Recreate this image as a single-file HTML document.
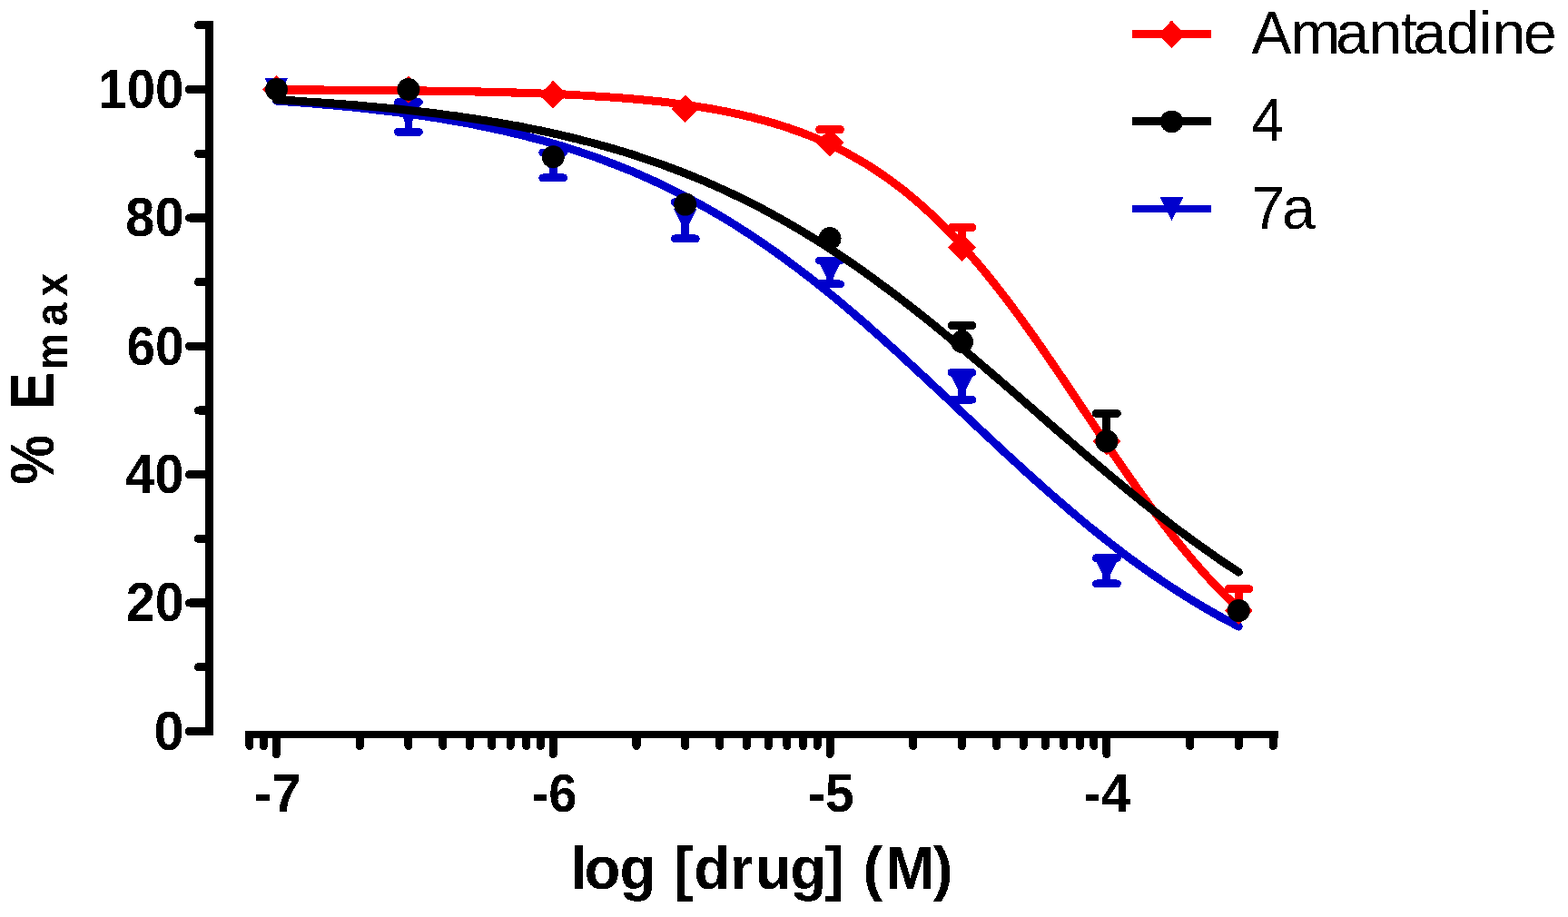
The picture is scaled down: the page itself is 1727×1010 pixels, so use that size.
<!DOCTYPE html><html><head><meta charset="utf-8"><title>Dose response: Amantadine, 4, 7a</title><style>html,body{margin:0;padding:0;background:#fff;}svg{display:block;}text{font-family:"Liberation Sans",Arial,Helvetica,sans-serif;}</style></head><body><svg width="1727" height="1010" viewBox="0 0 1727 1010"><rect width="1727" height="1010" fill="#fff"/><defs><filter id="alias" x="0" y="0" width="1727" height="1010" filterUnits="userSpaceOnUse"><feComponentTransfer><feFuncA type="discrete" tableValues="0 1"/></feComponentTransfer></filter></defs><g filter="url(#alias)"><g stroke="#000" fill="none" stroke-linecap="round" stroke-linejoin="miter"><path d="M218.40 27.80 H230.40 V805.50 H208.40" stroke-width="9"/><path d="M218.40 734.80 H230.40" stroke-width="9"/><path d="M208.40 664.10 H230.40" stroke-width="9"/><path d="M218.40 593.40 H230.40" stroke-width="9"/><path d="M208.40 522.70 H230.40" stroke-width="9"/><path d="M218.40 452.00 H230.40" stroke-width="9"/><path d="M208.40 381.30 H230.40" stroke-width="9"/><path d="M218.40 310.60 H230.40" stroke-width="9"/><path d="M208.40 239.90 H230.40" stroke-width="9"/><path d="M218.40 169.20 H230.40" stroke-width="9"/><path d="M208.40 98.50 H230.40" stroke-width="9"/><path d="M270.41 809.00 H1407.86" stroke-width="8" stroke-linecap="butt"/><path d="M274.91 809.00 V821.60" stroke-width="9"/><path d="M290.50 809.00 V821.60" stroke-width="9"/><path d="M304.45 809.00 V830.50" stroke-width="9"/><path d="M396.20 809.00 V821.60" stroke-width="9"/><path d="M449.88 809.00 V821.60" stroke-width="9"/><path d="M487.96 809.00 V821.60" stroke-width="9"/><path d="M517.50 809.00 V821.60" stroke-width="9"/><path d="M541.63 809.00 V821.60" stroke-width="9"/><path d="M562.04 809.00 V821.60" stroke-width="9"/><path d="M579.71 809.00 V821.60" stroke-width="9"/><path d="M595.30 809.00 V821.60" stroke-width="9"/><path d="M609.25 809.00 V830.50" stroke-width="9"/><path d="M701.00 809.00 V821.60" stroke-width="9"/><path d="M754.68 809.00 V821.60" stroke-width="9"/><path d="M792.76 809.00 V821.60" stroke-width="9"/><path d="M822.30 809.00 V821.60" stroke-width="9"/><path d="M846.43 809.00 V821.60" stroke-width="9"/><path d="M866.84 809.00 V821.60" stroke-width="9"/><path d="M884.51 809.00 V821.60" stroke-width="9"/><path d="M900.10 809.00 V821.60" stroke-width="9"/><path d="M914.05 809.00 V830.50" stroke-width="9"/><path d="M1005.80 809.00 V821.60" stroke-width="9"/><path d="M1059.48 809.00 V821.60" stroke-width="9"/><path d="M1097.56 809.00 V821.60" stroke-width="9"/><path d="M1127.10 809.00 V821.60" stroke-width="9"/><path d="M1151.23 809.00 V821.60" stroke-width="9"/><path d="M1171.64 809.00 V821.60" stroke-width="9"/><path d="M1189.31 809.00 V821.60" stroke-width="9"/><path d="M1204.90 809.00 V821.60" stroke-width="9"/><path d="M1218.85 809.00 V830.50" stroke-width="9"/><path d="M1310.60 809.00 V821.60" stroke-width="9"/><path d="M1364.28 809.00 V821.60" stroke-width="9"/><path d="M1402.36 809.00 V821.60" stroke-width="9"/></g><g stroke-width="8.70" fill="none" stroke-linecap="round" stroke-linejoin="round"><path d="M449.88 128.90 V112.50 M438.28 112.50 H461.48" stroke="#0000cc"/><path d="M449.88 128.90 V145.30 M438.28 145.30 H461.48" stroke="#0000cc"/><path d="M609.25 181.93 V168.03 M597.65 168.03 H620.85" stroke="#0000cc"/><path d="M609.25 181.93 V195.83 M597.65 195.83 H620.85" stroke="#0000cc"/><path d="M754.68 242.73 V222.53 M743.08 222.53 H766.28" stroke="#0000cc"/><path d="M754.68 242.73 V262.93 M743.08 262.93 H766.28" stroke="#0000cc"/><path d="M914.05 300.00 V287.19 M902.45 287.19 H925.65" stroke="#0000cc"/><path d="M914.05 300.00 V312.80 M902.45 312.80 H925.65" stroke="#0000cc"/><path d="M1059.48 425.13 V410.13 M1047.88 410.13 H1071.08" stroke="#0000cc"/><path d="M1059.48 425.13 V440.13 M1047.88 440.13 H1071.08" stroke="#0000cc"/><path d="M1218.85 628.75 V614.65 M1207.25 614.65 H1230.45" stroke="#0000cc"/><path d="M1218.85 628.75 V642.85 M1207.25 642.85 H1230.45" stroke="#0000cc"/></g><path d="M304.45 111.15 L311.07 111.60 L317.70 112.06 L324.32 112.54 L330.95 113.03 L337.57 113.54 L344.19 114.07 L350.82 114.61 L357.44 115.18 L364.07 115.76 L370.69 116.37 L377.31 116.99 L383.94 117.64 L390.56 118.30 L397.18 118.99 L403.81 119.71 L410.43 120.44 L417.06 121.20 L423.68 121.99 L430.30 122.81 L436.93 123.65 L443.55 124.51 L450.18 125.41 L456.80 126.34 L463.42 127.30 L470.05 128.29 L476.67 129.31 L483.30 130.36 L489.92 131.45 L496.54 132.58 L503.17 133.74 L509.79 134.94 L516.42 136.18 L523.04 137.45 L529.66 138.77 L536.29 140.13 L542.91 141.53 L549.53 142.98 L556.16 144.47 L562.78 146.01 L569.41 147.60 L576.03 149.23 L582.65 150.92 L589.28 152.65 L595.90 154.44 L602.53 156.28 L609.15 158.18 L615.77 160.14 L622.40 162.15 L629.02 164.22 L635.65 166.35 L642.27 168.54 L648.89 170.80 L655.52 173.12 L662.14 175.50 L668.77 177.96 L675.39 180.48 L682.01 183.06 L688.64 185.72 L695.26 188.45 L701.88 191.26 L708.51 194.14 L715.13 197.09 L721.76 200.12 L728.38 203.22 L735.00 206.40 L741.63 209.67 L748.25 213.01 L754.88 216.43 L761.50 219.93 L768.12 223.52 L774.75 227.19 L781.37 230.94 L788.00 234.77 L794.62 238.69 L801.24 242.70 L807.87 246.78 L814.49 250.96 L821.12 255.21 L827.74 259.55 L834.36 263.98 L840.99 268.49 L847.61 273.08 L854.24 277.75 L860.86 282.51 L867.48 287.35 L874.11 292.27 L880.73 297.26 L887.35 302.34 L893.98 307.49 L900.60 312.71 L907.23 318.01 L913.85 323.38 L920.47 328.82 L927.10 334.33 L933.72 339.90 L940.35 345.53 L946.97 351.22 L953.59 356.98 L960.22 362.78 L966.84 368.64 L973.47 374.55 L980.09 380.50 L986.71 386.49 L993.34 392.53 L999.96 398.60 L1006.59 404.70 L1013.21 410.83 L1019.83 416.99 L1026.46 423.17 L1033.08 429.36 L1039.70 435.57 L1046.33 441.79 L1052.95 448.02 L1059.58 454.25 L1066.20 460.48 L1072.82 466.70 L1079.45 472.91 L1086.07 479.11 L1092.70 485.30 L1099.32 491.46 L1105.94 497.60 L1112.57 503.71 L1119.19 509.79 L1125.82 515.83 L1132.44 521.84 L1139.06 527.81 L1145.69 533.72 L1152.31 539.60 L1158.94 545.42 L1165.56 551.18 L1172.18 556.89 L1178.81 562.54 L1185.43 568.13 L1192.05 573.66 L1198.68 579.12 L1205.30 584.50 L1211.93 589.82 L1218.55 595.07 L1225.17 600.24 L1231.80 605.34 L1238.42 610.35 L1245.05 615.29 L1251.67 620.15 L1258.29 624.93 L1264.92 629.63 L1271.54 634.25 L1278.17 638.78 L1284.79 643.23 L1291.41 647.59 L1298.04 651.87 L1304.66 656.07 L1311.29 660.18 L1317.91 664.20 L1324.53 668.15 L1331.16 672.00 L1337.78 675.78 L1344.40 679.47 L1351.03 683.08 L1357.65 686.61 L1364.28 690.05" stroke="#0000cc" stroke-width="9.00" fill="none" stroke-linecap="round" stroke-linejoin="round"/><path d="M291.65 85.80 L317.25 85.80 L304.45 111.20 Z" fill="#0000cc"/><path d="M437.08 116.20 L462.68 116.20 L449.88 141.60 Z" fill="#0000cc"/><path d="M596.45 169.23 L622.05 169.23 L609.25 194.63 Z" fill="#0000cc"/><path d="M741.88 230.03 L767.48 230.03 L754.68 255.43 Z" fill="#0000cc"/><path d="M901.25 287.30 L926.85 287.30 L914.05 312.69 Z" fill="#0000cc"/><path d="M1046.68 412.43 L1072.28 412.43 L1059.48 437.83 Z" fill="#0000cc"/><path d="M1206.05 616.05 L1231.65 616.05 L1218.85 641.45 Z" fill="#0000cc"/><g stroke-width="8.70" fill="none" stroke-linecap="round" stroke-linejoin="round"><path d="M914.05 157.18 V142.58 M902.45 142.58 H925.65" stroke="#ff0000"/><path d="M1059.48 272.42 V250.42 M1047.88 250.42 H1071.08" stroke="#ff0000"/><path d="M1364.28 672.58 V648.58 M1352.68 648.58 H1375.88" stroke="#ff0000"/></g><path d="M304.45 98.88 L311.07 98.91 L317.70 98.93 L324.32 98.95 L330.95 98.98 L337.57 99.01 L344.19 99.04 L350.82 99.07 L357.44 99.10 L364.07 99.14 L370.69 99.17 L377.31 99.21 L383.94 99.25 L390.56 99.30 L397.18 99.34 L403.81 99.39 L410.43 99.44 L417.06 99.49 L423.68 99.55 L430.30 99.61 L436.93 99.68 L443.55 99.74 L450.18 99.82 L456.80 99.89 L463.42 99.97 L470.05 100.06 L476.67 100.14 L483.30 100.24 L489.92 100.34 L496.54 100.44 L503.17 100.56 L509.79 100.67 L516.42 100.80 L523.04 100.93 L529.66 101.07 L536.29 101.22 L542.91 101.37 L549.53 101.54 L556.16 101.71 L562.78 101.90 L569.41 102.09 L576.03 102.30 L582.65 102.51 L589.28 102.74 L595.90 102.99 L602.53 103.24 L609.15 103.51 L615.77 103.80 L622.40 104.10 L629.02 104.42 L635.65 104.76 L642.27 105.12 L648.89 105.49 L655.52 105.89 L662.14 106.31 L668.77 106.76 L675.39 107.23 L682.01 107.72 L688.64 108.25 L695.26 108.80 L701.88 109.39 L708.51 110.00 L715.13 110.65 L721.76 111.34 L728.38 112.06 L735.00 112.83 L741.63 113.64 L748.25 114.49 L754.88 115.39 L761.50 116.33 L768.12 117.33 L774.75 118.39 L781.37 119.50 L788.00 120.67 L794.62 121.90 L801.24 123.20 L807.87 124.57 L814.49 126.02 L821.12 127.54 L827.74 129.13 L834.36 130.82 L840.99 132.59 L847.61 134.45 L854.24 136.41 L860.86 138.47 L867.48 140.63 L874.11 142.91 L880.73 145.29 L887.35 147.80 L893.98 150.43 L900.60 153.19 L907.23 156.08 L913.85 159.11 L920.47 162.29 L927.10 165.61 L933.72 169.09 L940.35 172.72 L946.97 176.53 L953.59 180.50 L960.22 184.64 L966.84 188.97 L973.47 193.48 L980.09 198.17 L986.71 203.06 L993.34 208.15 L999.96 213.43 L1006.59 218.92 L1013.21 224.62 L1019.83 230.53 L1026.46 236.64 L1033.08 242.97 L1039.70 249.51 L1046.33 256.26 L1052.95 263.23 L1059.58 270.41 L1066.20 277.79 L1072.82 285.39 L1079.45 293.18 L1086.07 301.18 L1092.70 309.37 L1099.32 317.74 L1105.94 326.30 L1112.57 335.02 L1119.19 343.91 L1125.82 352.96 L1132.44 362.14 L1139.06 371.46 L1145.69 380.90 L1152.31 390.45 L1158.94 400.08 L1165.56 409.80 L1172.18 419.58 L1178.81 429.42 L1185.43 439.28 L1192.05 449.17 L1198.68 459.07 L1205.30 468.95 L1211.93 478.80 L1218.55 488.61 L1225.17 498.37 L1231.80 508.06 L1238.42 517.66 L1245.05 527.16 L1251.67 536.54 L1258.29 545.81 L1264.92 554.93 L1271.54 563.91 L1278.17 572.73 L1284.79 581.39 L1291.41 589.87 L1298.04 598.16 L1304.66 606.27 L1311.29 614.18 L1317.91 621.89 L1324.53 629.40 L1331.16 636.69 L1337.78 643.78 L1344.40 650.66 L1351.03 657.32 L1357.65 663.77 L1364.28 670.01" stroke="#ff0000" stroke-width="9.00" fill="none" stroke-linecap="round" stroke-linejoin="round"/><path d="M304.45 83.20 L319.75 98.50 L304.45 113.80 L289.15 98.50 Z" fill="#ff0000"/><path d="M449.88 83.20 L465.18 98.50 L449.88 113.80 L434.58 98.50 Z" fill="#ff0000"/><path d="M609.25 88.86 L624.55 104.16 L609.25 119.46 L593.95 104.16 Z" fill="#ff0000"/><path d="M754.68 104.41 L769.98 119.71 L754.68 135.01 L739.38 119.71 Z" fill="#ff0000"/><path d="M914.05 141.88 L929.35 157.18 L914.05 172.48 L898.75 157.18 Z" fill="#ff0000"/><path d="M1059.48 257.12 L1074.78 272.42 L1059.48 287.72 L1044.18 272.42 Z" fill="#ff0000"/><path d="M1218.85 470.64 L1234.15 485.94 L1218.85 501.24 L1203.55 485.94 Z" fill="#ff0000"/><path d="M1364.28 657.28 L1379.58 672.58 L1364.28 687.88 L1348.98 672.58 Z" fill="#ff0000"/><g stroke-width="8.70" fill="none" stroke-linecap="round" stroke-linejoin="round"><path d="M1059.48 376.35 V358.65 M1047.88 358.65 H1071.08" stroke="#000000"/><path d="M1218.85 485.94 V455.34 M1207.25 455.34 H1230.45" stroke="#000000"/></g><path d="M304.45 109.89 L311.07 110.27 L317.70 110.65 L324.32 111.04 L330.95 111.45 L337.57 111.87 L344.19 112.31 L350.82 112.76 L357.44 113.22 L364.07 113.70 L370.69 114.19 L377.31 114.70 L383.94 115.23 L390.56 115.77 L397.18 116.32 L403.81 116.90 L410.43 117.49 L417.06 118.11 L423.68 118.74 L430.30 119.39 L436.93 120.06 L443.55 120.75 L450.18 121.47 L456.80 122.21 L463.42 122.96 L470.05 123.75 L476.67 124.55 L483.30 125.38 L489.92 126.24 L496.54 127.12 L503.17 128.03 L509.79 128.97 L516.42 129.94 L523.04 130.93 L529.66 131.96 L536.29 133.01 L542.91 134.10 L549.53 135.22 L556.16 136.37 L562.78 137.56 L569.41 138.78 L576.03 140.04 L582.65 141.33 L589.28 142.66 L595.90 144.03 L602.53 145.44 L609.15 146.90 L615.77 148.39 L622.40 149.92 L629.02 151.50 L635.65 153.12 L642.27 154.79 L648.89 156.50 L655.52 158.26 L662.14 160.07 L668.77 161.93 L675.39 163.84 L682.01 165.80 L688.64 167.82 L695.26 169.88 L701.88 172.01 L708.51 174.18 L715.13 176.42 L721.76 178.71 L728.38 181.06 L735.00 183.47 L741.63 185.94 L748.25 188.47 L754.88 191.06 L761.50 193.72 L768.12 196.44 L774.75 199.22 L781.37 202.08 L788.00 204.99 L794.62 207.98 L801.24 211.03 L807.87 214.15 L814.49 217.35 L821.12 220.61 L827.74 223.94 L834.36 227.34 L840.99 230.81 L847.61 234.36 L854.24 237.98 L860.86 241.67 L867.48 245.43 L874.11 249.26 L880.73 253.17 L887.35 257.15 L893.98 261.20 L900.60 265.32 L907.23 269.52 L913.85 273.78 L920.47 278.12 L927.10 282.53 L933.72 287.00 L940.35 291.55 L946.97 296.16 L953.59 300.84 L960.22 305.59 L966.84 310.40 L973.47 315.27 L980.09 320.21 L986.71 325.20 L993.34 330.26 L999.96 335.37 L1006.59 340.54 L1013.21 345.76 L1019.83 351.03 L1026.46 356.35 L1033.08 361.72 L1039.70 367.13 L1046.33 372.59 L1052.95 378.08 L1059.58 383.62 L1066.20 389.19 L1072.82 394.79 L1079.45 400.42 L1086.07 406.08 L1092.70 411.76 L1099.32 417.46 L1105.94 423.18 L1112.57 428.92 L1119.19 434.67 L1125.82 440.42 L1132.44 446.19 L1139.06 451.96 L1145.69 457.72 L1152.31 463.49 L1158.94 469.24 L1165.56 474.99 L1172.18 480.73 L1178.81 486.45 L1185.43 492.15 L1192.05 497.84 L1198.68 503.49 L1205.30 509.13 L1211.93 514.73 L1218.55 520.30 L1225.17 525.83 L1231.80 531.33 L1238.42 536.78 L1245.05 542.20 L1251.67 547.57 L1258.29 552.89 L1264.92 558.16 L1271.54 563.38 L1278.17 568.55 L1284.79 573.66 L1291.41 578.72 L1298.04 583.72 L1304.66 588.65 L1311.29 593.53 L1317.91 598.34 L1324.53 603.08 L1331.16 607.77 L1337.78 612.38 L1344.40 616.93 L1351.03 621.40 L1357.65 625.81 L1364.28 630.15" stroke="#000000" stroke-width="9.00" fill="none" stroke-linecap="round" stroke-linejoin="round"/><circle cx="304.45" cy="98.50" r="12.50" fill="#000000"/><circle cx="449.88" cy="98.50" r="12.50" fill="#000000"/><circle cx="609.25" cy="172.74" r="12.50" fill="#000000"/><circle cx="754.68" cy="225.05" r="12.50" fill="#000000"/><circle cx="914.05" cy="262.52" r="12.50" fill="#000000"/><circle cx="1059.48" cy="376.35" r="12.50" fill="#000000"/><circle cx="1218.85" cy="485.94" r="12.50" fill="#000000"/><circle cx="1364.28" cy="672.58" r="12.50" fill="#000000"/><rect x="1247" y="33.10" width="87" height="9.0" fill="#ff0000"/><path d="M1290.50 22.60 L1305.80 37.90 L1290.50 53.20 L1275.20 37.90 Z" fill="#ff0000"/><rect x="1247" y="129.10" width="87" height="9.0" fill="#000000"/><circle cx="1290.50" cy="133.90" r="12.50" fill="#000000"/><rect x="1247" y="225.80" width="87" height="8.2" fill="#0000cc"/><path d="M1277.70 217.50 L1303.30 217.50 L1290.50 242.90 Z" fill="#0000cc"/><g fill="#000"><text transform="translate(108.22 118.87) scale(0.9346 1)" font-size="60.50" font-weight="bold">100</text><text transform="translate(138.37 260.23) scale(0.9551 1)" font-size="60.50" font-weight="bold">80</text><text transform="translate(139.42 401.59) scale(0.9389 1)" font-size="60.50" font-weight="bold">60</text><text transform="translate(138.03 542.95) scale(0.9604 1)" font-size="60.50" font-weight="bold">40</text><text transform="translate(138.79 684.31) scale(0.9487 1)" font-size="60.50" font-weight="bold">20</text><text transform="translate(169.42 825.67) scale(0.9848 1)" font-size="60.50" font-weight="bold">0</text><text transform="translate(279.64 894.10) scale(0.9814 1)" font-size="60.00" font-weight="bold">-7</text><text transform="translate(585.45 894.35) scale(0.9365 1)" font-size="60.00" font-weight="bold">-6</text><text transform="translate(889.71 894.40) scale(0.9553 1)" font-size="60.00" font-weight="bold">-5</text><text transform="translate(1193.26 894.10) scale(0.9743 1)" font-size="60.00" font-weight="bold">-4</text><text transform="translate(1378.28 155.00) scale(0.9843 1)" font-size="66.00" font-weight="normal">4</text><text transform="translate(0 979.00) scale(0.9900 1)" font-size="66.00" font-weight="bold" style="white-space:pre"><tspan x="634.65">l</tspan><tspan x="650.04">o</tspan><tspan x="689.33">g </tspan><tspan x="749.68">[</tspan><tspan x="772.08">d</tspan><tspan x="812.15">r</tspan><tspan x="840.07">u</tspan><tspan x="879.03">g</tspan><tspan x="917.33">] </tspan><tspan x="960.13">(</tspan><tspan x="985.09">M</tspan><tspan x="1038.20">)</tspan></text><text transform="translate(0 59.00) scale(1.0000 1)" font-size="66.00" font-weight="normal" style="white-space:pre"><tspan x="1378.49">A</tspan><tspan x="1421.44">m</tspan><tspan x="1471.15">a</tspan><tspan x="1507.55">n</tspan><tspan x="1542.47">t</tspan><tspan x="1556.20">a</tspan><tspan x="1592.74">d</tspan><tspan x="1628.58">i</tspan><tspan x="1643.55">n</tspan><tspan x="1678.06">e</tspan></text><text transform="translate(0 251.80) scale(1.0000 1)" font-size="66.00" font-weight="normal" style="white-space:pre"><tspan x="1378.31">7</tspan><tspan x="1412.10">a</tspan></text></g><g fill="#000" font-weight="bold"><text transform="translate(58.90 531.70) rotate(-90) scale(0.900 1)" font-size="68.50" style="white-space:pre"><tspan x="-2.29">% </tspan><tspan x="89.70">E</tspan></text><text transform="translate(74.20 531.70) rotate(-90) scale(0.910 1)" font-size="50.10"><tspan x="136.47">m</tspan><tspan x="189.74">a</tspan><tspan x="225.70">x</tspan></text></g></g></svg></body></html>
